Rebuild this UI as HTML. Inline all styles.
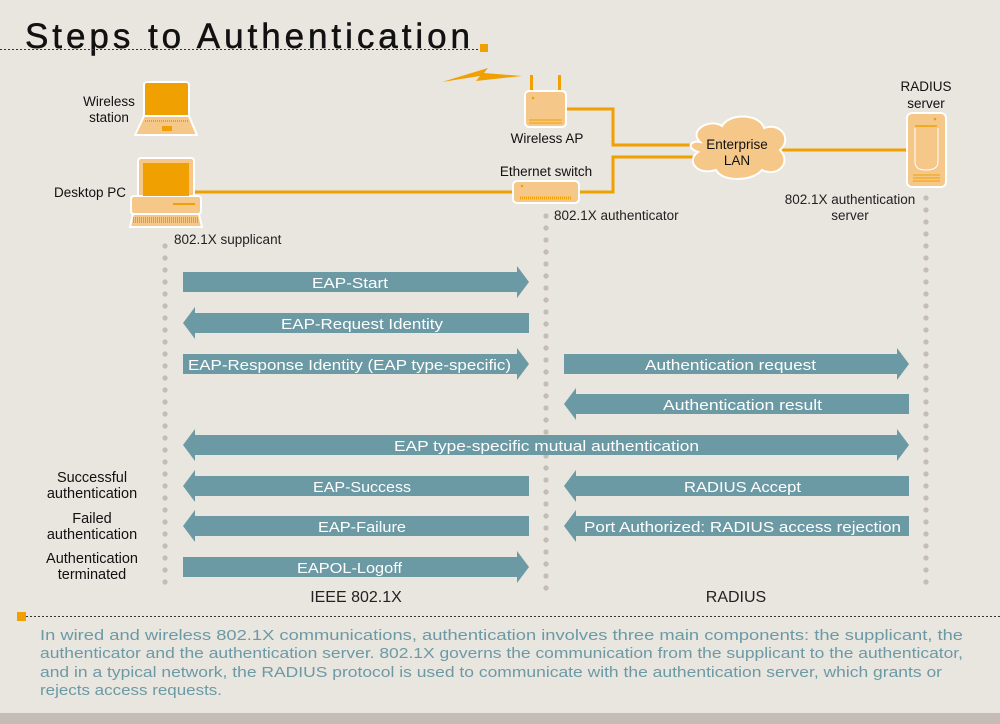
<!DOCTYPE html>
<html><head><meta charset="utf-8"><style>
html,body{margin:0;padding:0;background:#e9e5df;}
body{width:1000px;height:724px;overflow:hidden;position:relative;font-family:"Liberation Sans",sans-serif;}
</style></head><body>
<svg width="1000" height="724" viewBox="0 0 1000 724" xmlns="http://www.w3.org/2000/svg" style="position:absolute;left:0;top:0">
<rect width="1000" height="724" fill="#e9e5df"/>
<rect y="713" width="1000" height="11" fill="#c4bcb5"/>
<text x="25" y="48" font-size="35" fill="#111" textLength="445" lengthAdjust="spacing" stroke="#111" stroke-width="0.5">Steps to Authentication</text>
<rect x="480" y="44" width="8" height="8" fill="#f0a000"/>
<line x1="0" y1="49.5" x2="480" y2="49.5" stroke="#333" stroke-width="1" stroke-dasharray="2,2"/>
<line x1="26" y1="616.5" x2="1000" y2="616.5" stroke="#333" stroke-width="1" stroke-dasharray="2,2"/>
<rect x="17" y="612" width="9" height="9" fill="#f0a000"/>
<g stroke="#c4bcb5" stroke-width="5.2" stroke-linecap="round" stroke-dasharray="0,12">
<line x1="165" y1="246" x2="165" y2="590"/>
<line x1="546" y1="216" x2="546" y2="590"/>
<line x1="926" y1="198" x2="926" y2="590"/>
</g>
<g stroke="#f0a000" stroke-width="3" fill="none">
<polyline points="566,109 613,109 613,145 695,145"/>
<polyline points="195,192 513,192"/>
<polyline points="579,192 613,192 613,157 695,157"/>
<line x1="780" y1="150" x2="908" y2="150"/>
</g>
<polygon points="442,82 480,76 476,81 522,76 484,73 488,68" fill="#f0a000"/>
<g stroke="#fff" stroke-width="2">
<rect x="144" y="82" width="45" height="36" rx="3" fill="#f0a000"/>
<polygon points="144,116 189,116 197,135 135,135" fill="#f5c88a" stroke-linejoin="round"/>
</g>
<rect x="148" y="86" width="37" height="29" fill="#f0a000"/>
<rect x="162" y="126" width="10" height="5" fill="#f0a000"/>
<line x1="145" y1="121" x2="189" y2="121" stroke="#f0a000" stroke-width="2" stroke-dasharray="1,1"/>
<g stroke="#fff" stroke-width="2">
<rect x="138" y="158" width="56" height="40" rx="3" fill="#f5c88a"/>
<rect x="131" y="196" width="70" height="18" rx="3" fill="#f5c88a"/>
<polygon points="133,214 199,214 202,227 130,227" fill="#f5c88a"/>
</g>
<rect x="143" y="163" width="46" height="33" fill="#f0a000"/>
<rect x="173" y="203" width="22" height="2" fill="#f0a000"/>
<line x1="133" y1="220" x2="199" y2="220" stroke="#f0a000" stroke-width="6" stroke-dasharray="1,1"/>
<rect x="530" y="75" width="3" height="18" fill="#f0a000"/>
<rect x="558" y="75" width="3" height="18" fill="#f0a000"/>
<rect x="525" y="91" width="41" height="36" rx="4" fill="#f5c88a" stroke="#fff" stroke-width="2"/>
<circle cx="533" cy="98" r="1.3" fill="#f0a000"/>
<line x1="529" y1="120" x2="562" y2="120" stroke="#f0a000"/><line x1="529" y1="123" x2="562" y2="123" stroke="#f0a000"/>
<rect x="513" y="181" width="66" height="22" rx="4" fill="#f5c88a" stroke="#fff" stroke-width="2"/>
<circle cx="522" cy="186" r="1.3" fill="#f0a000"/>
<line x1="520" y1="198" x2="572" y2="198" stroke="#f0a000" stroke-width="3" stroke-dasharray="1,1"/>
<path d="M700,142 C688,130 710,118 722,126 C730,112 760,114 764,128 C782,122 792,140 780,150 C792,162 778,178 762,170 C752,182 722,182 716,170 C696,176 686,160 698,152 C686,148 690,140 700,142 Z" fill="#f5c88a" stroke="#fff" stroke-width="2"/>
<rect x="907" y="113" width="39" height="74" rx="5" fill="#f5c88a" stroke="#fff" stroke-width="2"/>
<line x1="915" y1="126" x2="937" y2="126" stroke="#f0a000" stroke-width="1.5"/>
<circle cx="935" cy="119" r="1.3" fill="#f0a000"/>
<path d="M915,128 L915,162 Q915,170 926,170 Q938,170 938,162 L938,128" fill="none" stroke="#fff" stroke-width="1"/>
<g stroke="#f0a000" stroke-width="1"><line x1="913" y1="175" x2="940" y2="175"/><line x1="913" y1="178" x2="940" y2="178"/><line x1="913" y1="181" x2="940" y2="181"/></g>
<g font-size="13.5" fill="#111" text-anchor="middle">
<text x="109" y="106">Wireless</text><text x="109" y="122">station</text>
<text x="90" y="197">Desktop PC</text>
<text x="547" y="143">Wireless AP</text>
<text x="546" y="176">Ethernet switch</text>
<text x="737" y="149">Enterprise</text><text x="737" y="165">LAN</text>
<text x="926" y="91">RADIUS</text><text x="926" y="108">server</text>
<text x="92" y="482" font-size="14.5">Successful</text><text x="92" y="498" font-size="14.5">authentication</text>
<text x="92" y="523" font-size="14.5">Failed</text><text x="92" y="539" font-size="14.5">authentication</text>
<text x="92" y="563" font-size="14.5">Authentication</text><text x="92" y="579" font-size="14.5">terminated</text>
</g>
<g font-size="13.5" fill="#222">
<text x="174" y="244">802.1X supplicant</text>
<text x="554" y="220">802.1X authenticator</text>
<text x="850" y="204" text-anchor="middle">802.1X authentication</text>
<text x="850" y="220" text-anchor="middle">server</text>
<text x="356" y="602" font-size="16" text-anchor="middle">IEEE 802.1X</text>
<text x="736" y="602" font-size="16" text-anchor="middle">RADIUS</text>
</g>
<g fill="#6b9aa5">
<polygon points="183,272 517,272 517,266 529,282 517,298 517,292 183,292"/>
<polygon points="529,313 195,313 195,307 183,323 195,339 195,333 529,333"/>
<polygon points="183,354 517,354 517,348 529,364 517,380 517,374 183,374"/>
<polygon points="564,354 897,354 897,348 909,364 897,380 897,374 564,374"/>
<polygon points="909,394 576,394 576,388 564,404 576,420 576,414 909,414"/>
<polygon points="195,435 897,435 897,429 909,445 897,461 897,455 195,455 195,461 183,445 195,429"/>
<polygon points="529,476 195,476 195,470 183,486 195,502 195,496 529,496"/>
<polygon points="909,476 576,476 576,470 564,486 576,502 576,496 909,496"/>
<polygon points="529,516 195,516 195,510 183,526 195,542 195,536 529,536"/>
<polygon points="909,516 576,516 576,510 564,526 576,542 576,536 909,536"/>
<polygon points="183,557 517,557 517,551 529,567 517,583 517,577 183,577"/>
</g>
<g font-size="15" fill="#fff">
<text x="312" y="288" textLength="76" lengthAdjust="spacingAndGlyphs">EAP-Start</text>
<text x="281" y="329" textLength="162" lengthAdjust="spacingAndGlyphs">EAP-Request Identity</text>
<text x="188" y="370" textLength="323" lengthAdjust="spacingAndGlyphs">EAP-Response Identity (EAP type-specific)</text>
<text x="645" y="370" textLength="171" lengthAdjust="spacingAndGlyphs">Authentication request</text>
<text x="663" y="410" textLength="159" lengthAdjust="spacingAndGlyphs">Authentication result</text>
<text x="394" y="451" textLength="305" lengthAdjust="spacingAndGlyphs">EAP type-specific mutual authentication</text>
<text x="313" y="492" textLength="98" lengthAdjust="spacingAndGlyphs">EAP-Success</text>
<text x="684" y="492" textLength="117" lengthAdjust="spacingAndGlyphs">RADIUS Accept</text>
<text x="318" y="532" textLength="88" lengthAdjust="spacingAndGlyphs">EAP-Failure</text>
<text x="584" y="532" textLength="317" lengthAdjust="spacingAndGlyphs">Port Authorized: RADIUS access rejection</text>
<text x="297" y="573" textLength="105" lengthAdjust="spacingAndGlyphs">EAPOL-Logoff</text>
</g>
<g font-size="15" fill="#6b9aa5">
<text x="40" y="640" textLength="923" lengthAdjust="spacingAndGlyphs">In wired and wireless 802.1X communications, authentication involves three main components: the supplicant, the</text>
<text x="40" y="658" textLength="923" lengthAdjust="spacingAndGlyphs">authenticator and the authentication server. 802.1X governs the communication from the supplicant to the authenticator,</text>
<text x="40" y="677" textLength="902" lengthAdjust="spacingAndGlyphs">and in a typical network, the RADIUS protocol is used to communicate with the authentication server, which grants or</text>
<text x="40" y="695" textLength="182" lengthAdjust="spacingAndGlyphs">rejects access requests.</text>
</g>
</svg>
</body></html>
